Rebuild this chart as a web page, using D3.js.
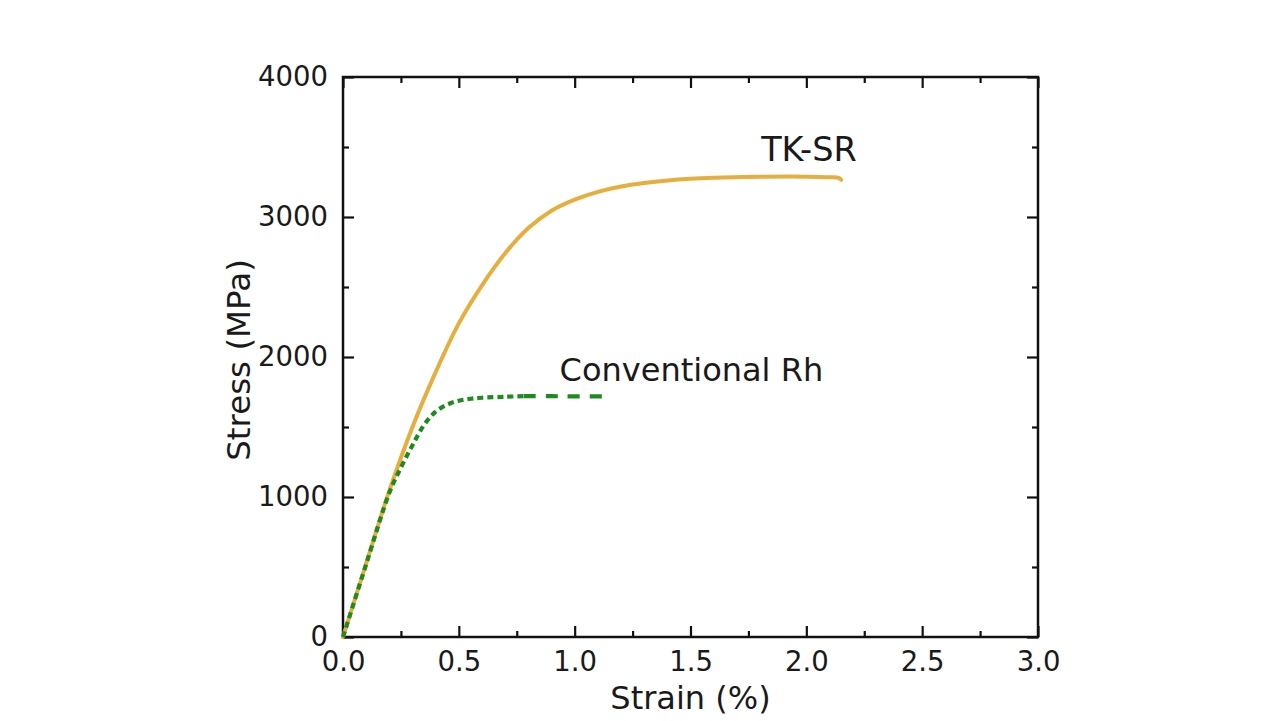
<!DOCTYPE html>
<html>
<head>
<meta charset="utf-8">
<script src="https://cdn.jsdelivr.net/npm/d3@7"></script>
<style>
  html, body { margin: 0; padding: 0; background: #ffffff; }
  svg { display: block; }
  text { font-family: "DejaVu Sans", sans-serif; fill: #1a1a1a; }
</style>
</head>
<body>
<svg id="chart" width="1280" height="721"></svg>
<script>
// ---- data ----
const tkStrain = [0, 0.1, 0.2, 0.3, 0.4, 0.5, 0.6, 0.7, 0.8, 0.9, 1.0, 1.1, 1.2, 1.3, 1.4, 1.5, 1.6, 1.8, 2.0, 2.1, 2.14, 2.15];
const tkStress = [0, 525, 1045, 1500, 1892, 2240, 2512, 2741, 2921, 3045, 3124, 3180, 3218, 3243, 3261, 3273, 3280, 3287, 3288, 3284, 3279, 3266];

const rhStrain = [0, 0.1, 0.2, 0.25, 0.3, 0.35, 0.4, 0.45, 0.5, 0.55, 0.6, 0.7, 0.78, 0.9, 1.0, 1.14];
const rhStress = [0, 520, 1030, 1210, 1370, 1515, 1610, 1660, 1688, 1702, 1709, 1716, 1720, 1720, 1719, 1718];

const xMajor = [0, 0.5, 1.0, 1.5, 2.0, 2.5, 3.0];
const xMinor = [0.25, 0.75, 1.25, 1.75, 2.25, 2.75];
const yMajor = [0, 1000, 2000, 3000, 4000];
const yMinor = [500, 1500, 2500, 3500];

const seriesLabels = ["TK-SR", "Conventional Rh"];
const xTitle = "Strain (%)";
const yTitle = "Stress (MPa)";

// ---- layout ----
const svg = d3.select("#chart");
const L = 343, T = 77, W = 695, H = 560;
const g = svg.append("g").attr("transform", `translate(${L},${T})`);

const x = d3.scaleLinear().domain([0, 3.0]).range([0, W]);
const y = d3.scaleLinear().domain([0, 4000]).range([H, 0]);

const fmtX = d3.format(".1f");
const majorLen = 11, minorLen = 6;

function styleAxis(sel) {
  sel.select(".domain").remove();
  sel.selectAll(".tick line").attr("stroke", "#111").attr("stroke-width", 2.2);
  sel.selectAll(".tick text").style("font-size", "27.5px").style("font-family", '"DejaVu Sans", sans-serif').attr("fill", "#1a1a1a");
}

// bottom
g.append("g").attr("transform", `translate(0,${H})`)
  .call(d3.axisBottom(x).tickValues(xMajor).tickSize(-majorLen).tickPadding(14).tickFormat(fmtX))
  .call(styleAxis);
g.append("g").attr("transform", `translate(0,${H})`)
  .call(d3.axisBottom(x).tickValues(xMinor).tickSize(-minorLen).tickFormat(""))
  .call(styleAxis);
// top
g.append("g")
  .call(d3.axisTop(x).tickValues(xMajor).tickSize(-majorLen).tickFormat(""))
  .call(styleAxis);
g.append("g")
  .call(d3.axisTop(x).tickValues(xMinor).tickSize(-minorLen).tickFormat(""))
  .call(styleAxis);
// left
g.append("g")
  .call(d3.axisLeft(y).tickValues(yMajor).tickSize(-majorLen).tickPadding(15).tickFormat(d3.format("d")))
  .call(styleAxis);
g.append("g")
  .call(d3.axisLeft(y).tickValues(yMinor).tickSize(-minorLen).tickFormat(""))
  .call(styleAxis);
// right
g.append("g").attr("transform", `translate(${W},0)`)
  .call(d3.axisRight(y).tickValues(yMajor).tickSize(-majorLen).tickFormat(""))
  .call(styleAxis);
g.append("g").attr("transform", `translate(${W},0)`)
  .call(d3.axisRight(y).tickValues(yMinor).tickSize(-minorLen).tickFormat(""))
  .call(styleAxis);

// frame
g.append("rect").attr("x", 0).attr("y", 0).attr("width", W).attr("height", H)
  .attr("fill", "none").attr("stroke", "#111").attr("stroke-width", 2.5);

// ---- lines ----
const line = d3.line().x(d => x(d[0])).y(d => y(d[1])).curve(d3.curveCatmullRom.alpha(0.5));

const tkData = tkStrain.map((s, i) => [s, tkStress[i]]);
const rhData = rhStrain.map((s, i) => [s, rhStress[i]]);

g.append("path").datum(tkData).attr("d", line)
  .attr("fill", "none").attr("stroke", "#E6AE3C").attr("stroke-width", 4)
  .attr("stroke-linecap", "round").attr("stroke-linejoin", "round");

// conventional: dotted through the knee, longer dashes on the plateau
const breakStrain = 0.78;
const rhA = rhData.filter(d => d[0] <= breakStrain);
const rhB = rhData.filter(d => d[0] >= breakStrain);
g.append("path").datum(rhA).attr("d", line)
  .attr("fill", "none").attr("stroke", "#1F8A1F").attr("stroke-width", 4.2)
  .attr("stroke-dasharray", "6,4");
g.append("path").datum(rhB).attr("d", line)
  .attr("fill", "none").attr("stroke", "#1F8A1F").attr("stroke-width", 4.2)
  .attr("stroke-dasharray", "12,10");

// ---- series labels ----
g.append("text").attr("x", x(1.805)).attr("y", y(3402))
  .style("font-size", "33.5px").text(seriesLabels[0]);
g.append("text").attr("x", x(0.935)).attr("y", y(1830))
  .style("font-size", "32px").text(seriesLabels[1]);

// ---- axis titles ----
svg.append("text").attr("x", L + x(1.5) - 0).attr("y", 709)
  .attr("text-anchor", "middle").style("font-size", "32px").text(xTitle);
svg.append("text").attr("transform", `translate(250,360) rotate(-90)`)
  .attr("text-anchor", "middle").style("font-size", "32.5px").text(yTitle);
</script>
</body>
</html>
